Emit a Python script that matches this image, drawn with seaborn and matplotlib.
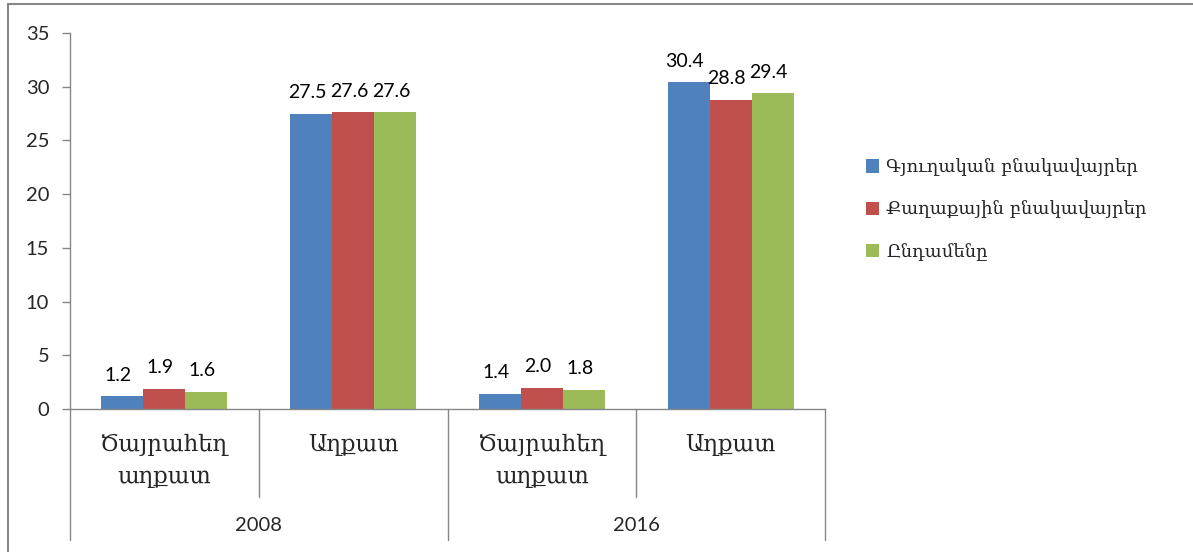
import matplotlib
matplotlib.use("Agg")
import matplotlib.pyplot as plt
import matplotlib.transforms as mtransforms
from matplotlib.patches import Rectangle
import pandas as pd
import seaborn as sns

years = ["2008", "2016"]
poverty = ["Ծայրահեղ\nաղքատ", "Աղքատ"]
series = ["Գյուղական բնակավայրեր", "Քաղաքային բնակավայրեր", "Ընդամենը"]
rural = [1.2, 27.5, 1.4, 30.4]
urban = [1.9, 27.6, 2.0, 28.8]
total = [1.6, 27.6, 1.8, 29.4]
colors = ["#4F81BD", "#C0504D", "#9BBB59"]

sns.set_theme(style="white")
plt.rcParams["font.family"] = ["Lato", "DejaVu Sans"]
arm_font = ["DejaVu Serif", "DejaVu Sans"]

keys = [f"{y}-{i}" for y in years for i in range(len(poverty))]
rows = []
for name, vals in zip(series, [rural, urban, total]):
    for k, v in zip(keys, vals):
        rows.append({"cat": k, "series": name, "value": v})
df = pd.DataFrame(rows)

fig = plt.figure(figsize=(11.93, 5.52), dpi=100)
ax = fig.add_axes([70 / 1193, 1 - 409 / 552, 755 / 1193, 376 / 552])

sns.barplot(data=df, x="cat", y="value", hue="series", order=keys,
            hue_order=series, palette=colors, width=0.667, gap=0,
            saturation=1, ax=ax, edgecolor="none")

for c in ax.containers:
    for t in ax.bar_label(c, fmt="%.1f", padding=9, fontsize=14, color="black"):
        t.xyann = (-3, 9)

ax.set_ylim(0, 35)
ax.set_xlim(-0.5, 3.5)
ax.set_yticks(range(0, 36, 5))
ax.set_xlabel("")
ax.set_ylabel("")
ax.set_xticks(range(4))
ax.set_xticklabels(poverty * 2, family=arm_font, fontsize=16.5, linespacing=1.55)
ax.tick_params(axis="x", length=0, pad=18)
ax.tick_params(axis="y", left=True, length=6, width=1, color="#868686",
               labelsize=14.5, pad=9)

for s in ["top", "right"]:
    ax.spines[s].set_visible(False)
for s in ["left", "bottom"]:
    ax.spines[s].set_color("#868686")
    ax.spines[s].set_linewidth(1)

trans = mtransforms.blended_transform_factory(ax.transData, ax.transAxes)
for x in [0.5, 2.5]:
    ax.plot([x, x], [0, -0.234], transform=trans, color="#868686", lw=1, clip_on=False)
for x in [-0.5, 1.5, 3.5]:
    ax.plot([x, x], [0, -0.348], transform=trans, color="#868686", lw=1, clip_on=False)
for i, y in enumerate(years):
    ax.text(2 * i + 0.5, -0.309, y, transform=trans, ha="center", va="center",
            fontsize=14.5)

handles, labels = ax.get_legend_handles_labels()
leg = ax.legend(handles, labels, loc="center left",
                bbox_to_anchor=(0.712, 0.62), bbox_transform=fig.transFigure,
                frameon=False, handlelength=0.75, handleheight=0.75,
                handletextpad=0.4, labelspacing=1.35, prop={"family": arm_font, "size": 13})

fig.patches.append(Rectangle((8 / 1193, -0.1), 1.2, 1.1 - 4 / 552 + 0.0,
                             transform=fig.transFigure, fill=False,
                             edgecolor="#878787", lw=1.5))

fig.savefig("out.png", dpi=100)
